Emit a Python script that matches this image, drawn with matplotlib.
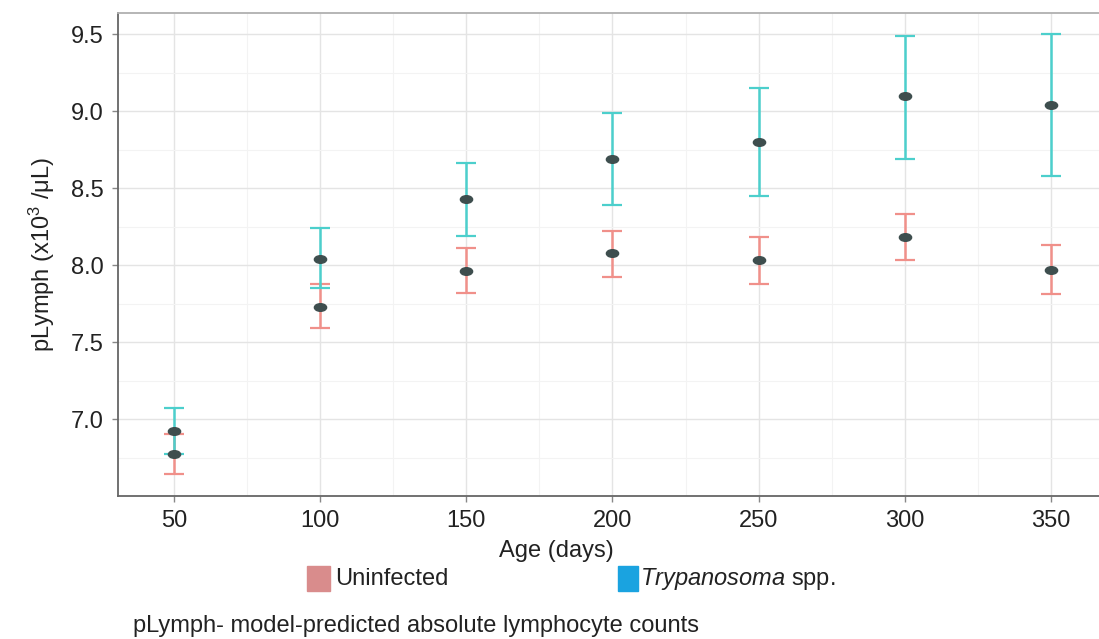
import numpy as np
import matplotlib
matplotlib.use("Agg")
import matplotlib.pyplot as plt
from matplotlib.markers import MarkerStyle
from matplotlib.transforms import Affine2D
from matplotlib.patches import Rectangle

plt.rcParams['font.family'] = ['Liberation Sans', 'DejaVu Sans']
plt.rcParams['mathtext.fontset'] = 'custom'
plt.rcParams['mathtext.rm'] = 'Liberation Sans'
plt.rcParams['mathtext.it'] = 'Liberation Sans:italic'

age = [50, 100, 150, 200, 250, 300, 350]

# Uninfected
unf_mean = [6.77, 7.73, 7.96, 8.08, 8.035, 8.18, 7.97]
unf_low = [6.64, 7.59, 7.82, 7.92, 7.88, 8.03, 7.81]
unf_high = [6.90, 7.88, 8.11, 8.22, 8.18, 8.33, 8.13]

# Trypanosoma spp.
tryp_mean = [6.92, 8.04, 8.43, 8.69, 8.80, 9.10, 9.04]
tryp_low = [6.77, 7.85, 8.19, 8.39, 8.45, 8.69, 8.58]
tryp_high = [7.07, 8.24, 8.66, 8.99, 9.15, 9.49, 9.50]

fig = plt.figure(figsize=(10.99, 6.39), dpi=100)
ax = fig.add_axes([118/1099, 1 - 496/639, 1 - 118/1099, (496 - 13)/639])

red = '#f0908a'
cyan = '#4ccfcc'
dot = '#3e4e4e'
oval = MarkerStyle('o', transform=Affine2D().scale(1.6, 1.0))

for m, lo, hi, c in [(unf_mean, unf_low, unf_high, red),
                     (tryp_mean, tryp_low, tryp_high, cyan)]:
    m = np.array(m)
    yerr = [m - np.array(lo), np.array(hi) - m]
    ax.errorbar(age, m, yerr=yerr, fmt='none', ecolor=c, elinewidth=1.8,
                capsize=7.5, capthick=1.6, zorder=3)

for m in [unf_mean, tryp_mean]:
    ax.plot(age, m, linestyle='none', marker=oval, markersize=5.5,
            color=dot, zorder=4)

ax.set_xlim(30.8, 366.5)
ax.set_ylim(6.5, 9.637)
ax.set_xticks(age)
ax.set_yticks([7.0, 7.5, 8.0, 8.5, 9.0, 9.5])
ax.set_yticklabels(['7.0', '7.5', '8.0', '8.5', '9.0', '9.5'])
ax.set_xticks(np.arange(75, 366, 50), minor=True)
ax.set_yticks([6.75, 7.25, 7.75, 8.25, 8.75, 9.25], minor=True)
ax.grid(which='major', color='#e4e4e4', linewidth=1.0, zorder=0)
ax.grid(which='minor', color='#f3f3f3', linewidth=0.8, zorder=0)
ax.set_axisbelow(True)
ax.tick_params(which='major', labelsize=17, colors='#888888', length=4,
               width=1, labelcolor='#222222', pad=6)
ax.tick_params(which='minor', length=0)

ax.spines['right'].set_visible(False)
ax.spines['left'].set_color('#666666')
ax.spines['bottom'].set_color('#666666')
ax.spines['top'].set_color('#b0b0b0')
for s in ['left', 'bottom', 'top']:
    ax.spines[s].set_linewidth(1.3)

fig.text(556/1099, 1 - 551/639, 'Age (days)', ha='center', va='center',
         fontsize=17, color='#222222')
fig.text(42/1099, 1 - 254/639, 'pLymph (x10$^{3}$ /μL)', rotation=90,
         ha='center', va='center', fontsize=17, color='#222222')

# legend
fig.add_artist(Rectangle((307/1099, 1 - 591/639), 23/1099, 25/639,
                         transform=fig.transFigure, color='#d98c8c'))
fig.text(335/1099, 1 - 579/639, 'Uninfected', ha='left', va='center',
         fontsize=17, color='#222222')
fig.add_artist(Rectangle((618/1099, 1 - 591/639), 20/1099, 25/639,
                         transform=fig.transFigure, color='#1aa3e0'))
fig.text(640/1099, 1 - 579/639, r'$\it{Trypanosoma}$ spp.', ha='left',
         va='center', fontsize=17, color='#222222')

fig.text(133/1099, 1 - 626/639,
         'pLymph- model-predicted absolute lymphocyte counts',
         ha='left', va='center', fontsize=17, color='#222222')

fig.savefig('out.png', dpi=100)
